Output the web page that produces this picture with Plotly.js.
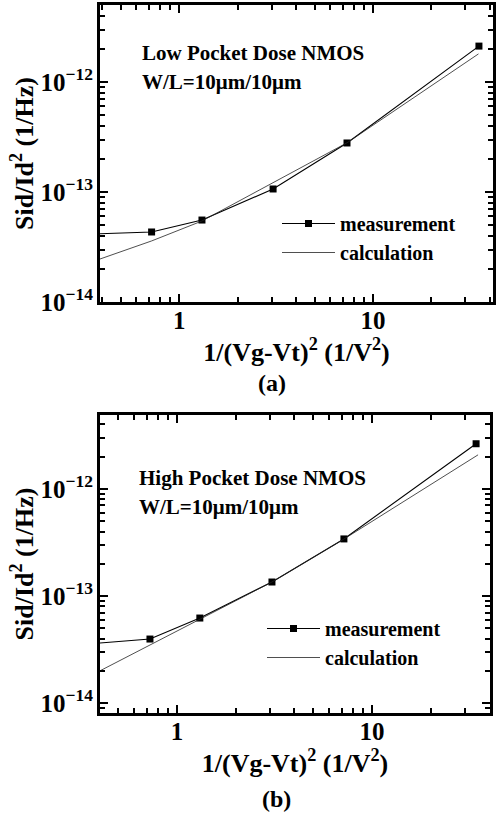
<!DOCTYPE html>
<html><head><meta charset="utf-8">
<script src="https://cdn.plot.ly/plotly-3.0.1.min.js"></script>
<style>html,body{margin:0;padding:0;background:#fff}</style>
</head><body><div id="chart" style="width:498px;height:817px"></div>
<script>
// (a) Low pocket dose NMOS
const xMeasA = [0.30, 0.72, 1.31, 3.05, 7.34, 35.2];
const yMeasA = [4.10e-14, 4.33e-14, 5.56e-14, 1.065e-13, 2.79e-13, 2.12e-12];
const xCalcA = [0.39, 0.72, 1.31, 3.05, 7.34, 35.0];
const yCalcA = [2.46e-14, 3.59e-14, 5.45e-14, 1.21e-13, 2.80e-13, 1.80e-12];
// (b) High pocket dose NMOS
const xMeasB = [0.30, 0.727, 1.31, 3.07, 7.18, 34.2];
const yMeasB = [3.49e-14, 3.96e-14, 6.22e-14, 1.35e-13, 3.41e-13, 2.64e-12];
const xCalcB = [0.403, 0.727, 1.31, 3.07, 7.18, 35.0];
const yCalcB = [2.00e-14, 3.48e-14, 6.10e-14, 1.35e-13, 3.40e-13, 2.08e-12];

const seriesNames = ['measurement', 'calculation'];
const panelLabels = ['(a)', '(b)'];
const panelTitles = ['Low Pocket Dose NMOS', 'High Pocket Dose NMOS'];
const deviceText = 'W/L=10\u03bcm/10\u03bcm';
const xTitle = '1/(Vg-Vt)<sup>2</sup> (1/V<sup>2</sup>)';
const yTitle = 'Sid/Id<sup>2</sup> (1/Hz)';

const W = 498, H = 817;
const px = v => v / W;
const py = v => 1 - v / H;
const FONT = 'Liberation Serif, Times New Roman, serif';
const TICKC = '#000';

function meas(x, y, xa, ya, lg) {
  return {x, y, xaxis: xa, yaxis: ya, legend: lg, name: seriesNames[0], type: 'scatter',
    mode: 'lines+markers', line: {color: '#000', width: 1.1},
    marker: {symbol: 'square', size: 7, color: '#000'}};
}
function calc(x, y, xa, ya, lg) {
  return {x, y, xaxis: xa, yaxis: ya, legend: lg, name: seriesNames[1], type: 'scatter',
    mode: 'lines', line: {color: '#222', width: 0.8}};
}

const data = [
  meas(xMeasA, yMeasA, 'x', 'y', 'legend'),
  calc(xCalcA, yCalcA, 'x', 'y', 'legend'),
  meas(xMeasB, yMeasB, 'x2', 'y2', 'legend2'),
  calc(xCalcB, yCalcB, 'x2', 'y2', 'legend2')
];

function baseAx(domain, range, anchor, title, standoff, labelShift) {
  return {type: 'log', domain, range, anchor, dtick: 1,
    showline: true, linewidth: 3, linecolor: '#000', mirror: 'allticks',
    ticks: 'inside', ticklen: 8, tickwidth: 2, tickcolor: TICKC,
    minor: {ticks: 'inside', ticklen: 5, tickwidth: 2, tickcolor: TICKC, dtick: 'D1', showgrid: false},
    showgrid: false, zeroline: false, exponentformat: 'power',
    ticklabelstandoff: labelShift,
    tickfont: {family: FONT, size: 20, color: '#000', weight: 'bold'},
    title: {text: title, standoff, font: {family: FONT, size: 26, color: '#000', weight: 'bold'}},
    automargin: false};
}

const legFont = {family: FONT, size: 20, color: '#000', weight: 'bold'};
const annFont = {family: FONT, size: 21, color: '#000', weight: 'bold'};
const labFont = {family: FONT, size: 24, color: '#000', weight: 'bold'};

const layout = {
  width: W, height: H,
  margin: {l: 0, r: 0, t: 0, b: 0},
  paper_bgcolor: '#fff', plot_bgcolor: '#fff',
  showlegend: true,
  xaxis: baseAx([px(100), px(493)], [Math.log10(0.39), Math.log10(41.6)], 'y', xTitle, 3, -5),
  yaxis: baseAx([py(302), py(5)], [-14, -11.3], 'x', yTitle, 0, 0),
  xaxis2: baseAx([px(100), px(490)], [Math.log10(0.403), Math.log10(40.3)], 'y2', xTitle, 0, -5),
  yaxis2: baseAx([py(713), py(415)], [-14.093, -11.31], 'x2', yTitle, 0, 0),
  legend: {x: px(277), y: py(204), xanchor: 'left', yanchor: 'top', bgcolor: 'rgba(0,0,0,0)',
    font: legFont, itemwidth: 53, tracegroupgap: 0},
  legend2: {x: px(262), y: py(609), xanchor: 'left', yanchor: 'top', bgcolor: 'rgba(0,0,0,0)',
    font: legFont, itemwidth: 53, tracegroupgap: 0},
  annotations: [
    {text: panelTitles[0], xref: 'paper', yref: 'paper', x: px(140), y: py(53), xanchor: 'left', yanchor: 'middle', showarrow: false, font: annFont},
    {text: deviceText, xref: 'paper', yref: 'paper', x: px(140), y: py(82), xanchor: 'left', yanchor: 'middle', showarrow: false, font: annFont},
    {text: panelTitles[1], xref: 'paper', yref: 'paper', x: px(137), y: py(478), xanchor: 'left', yanchor: 'middle', showarrow: false, font: annFont},
    {text: deviceText, xref: 'paper', yref: 'paper', x: px(137), y: py(507), xanchor: 'left', yanchor: 'middle', showarrow: false, font: annFont},
    {text: panelLabels[0], xref: 'paper', yref: 'paper', x: px(272), y: py(383), xanchor: 'center', yanchor: 'middle', showarrow: false, font: labFont},
    {text: panelLabels[1], xref: 'paper', yref: 'paper', x: px(276), y: py(799), xanchor: 'center', yanchor: 'middle', showarrow: false, font: labFont}
  ]
};

Plotly.newPlot('chart', data, layout, {staticPlot: true, displayModeBar: false});
</script></body></html>
